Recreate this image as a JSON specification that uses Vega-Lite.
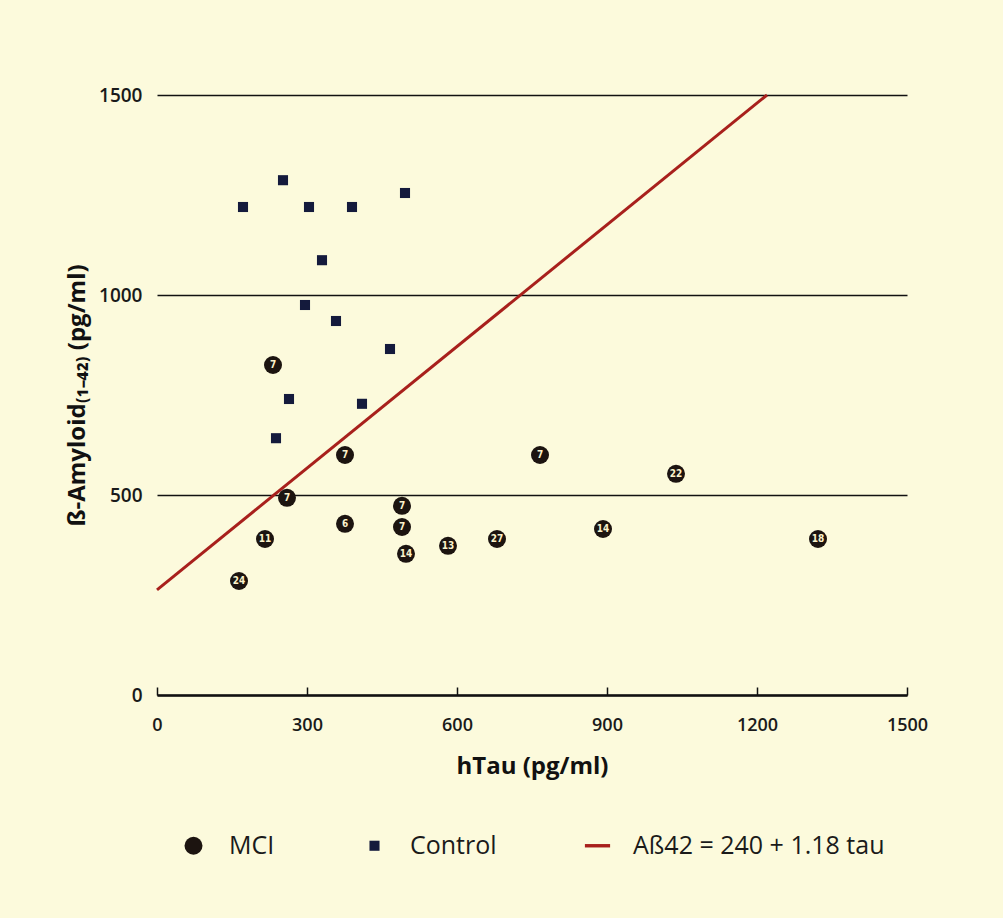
{
  "$schema": "https://vega.github.io/schema/vega-lite/v6.json",
  "width": 750,
  "height": 600,
  "autosize": {"type": "none"},
  "padding": {"left": 157, "top": 95, "right": 96, "bottom": 223},
  "background": "#fcfadc",
  "config": {
    "view": {"stroke": null},
    "font": "Open Sans",
    "legend": {
      "orient": "none",
      "legendX": 24,
      "legendY": 738,
      "direction": "horizontal",
      "columns": 3,
      "columnPadding": 87,
      "symbolSize": 324,
      "symbolStrokeWidth": 0,
      "labelFontSize": 25,
      "labelColor": "#1a1a1a",
      "labelOffset": 23,
      "labelLimit": 400
    }
  },
  "datasets": {
    "fit": [
      {"tau": 0, "abeta": 263},
      {"tau": 1220, "abeta": 1500}
    ],
    "points": [
      {"tau": 172, "abeta": 1220, "series": "Control"},
      {"tau": 252, "abeta": 1287, "series": "Control"},
      {"tau": 304, "abeta": 1220, "series": "Control"},
      {"tau": 390, "abeta": 1220, "series": "Control"},
      {"tau": 496, "abeta": 1255, "series": "Control"},
      {"tau": 330, "abeta": 1087, "series": "Control"},
      {"tau": 296, "abeta": 975, "series": "Control"},
      {"tau": 358, "abeta": 935, "series": "Control"},
      {"tau": 466, "abeta": 865, "series": "Control"},
      {"tau": 264, "abeta": 740, "series": "Control"},
      {"tau": 410, "abeta": 728, "series": "Control"},
      {"tau": 238, "abeta": 642, "series": "Control"},
      {"tau": 232, "abeta": 825, "n": "7", "series": "MCI"},
      {"tau": 376, "abeta": 600, "n": "7", "series": "MCI"},
      {"tau": 766, "abeta": 600, "n": "7", "series": "MCI"},
      {"tau": 260, "abeta": 493, "n": "7", "series": "MCI"},
      {"tau": 490, "abeta": 473, "n": "7", "series": "MCI"},
      {"tau": 376, "abeta": 428, "n": "6", "series": "MCI"},
      {"tau": 490, "abeta": 420, "n": "7", "series": "MCI"},
      {"tau": 216, "abeta": 390, "n": "11", "series": "MCI"},
      {"tau": 498, "abeta": 353, "n": "14", "series": "MCI"},
      {"tau": 582, "abeta": 373, "n": "13", "series": "MCI"},
      {"tau": 680, "abeta": 390, "n": "27", "series": "MCI"},
      {"tau": 164, "abeta": 285, "n": "24", "series": "MCI"},
      {"tau": 1038, "abeta": 553, "n": "22", "series": "MCI"},
      {"tau": 892, "abeta": 415, "n": "14", "series": "MCI"},
      {"tau": 1322, "abeta": 390, "n": "18", "series": "MCI"}
    ]
  },
  "encoding": {
    "x": {
      "field": "tau",
      "type": "quantitative",
      "scale": {"domain": [0, 1500], "nice": false, "zero": true},
      "axis": {
        "title": "hTau (pg/ml)",
        "values": [0, 300, 600, 900, 1200, 1500],
        "format": "d",
        "grid": false,
        "domainColor": "#111111",
        "domainWidth": 2.5,
        "tickColor": "#111111",
        "tickWidth": 1.5,
        "tickSize": -8,
        "labelFontSize": 18,
        "labelFontWeight": 600,
        "labelColor": "#1a1a1a",
        "labelPadding": 29,
        "labelFlush": false,
        "titleFontSize": 24,
        "titleFontWeight": "bold",
        "titleColor": "#111111",
        "titlePadding": 20
      }
    },
    "y": {
      "field": "abeta",
      "type": "quantitative",
      "scale": {"domain": [0, 1500], "nice": false},
      "axis": {
        "title": "ß-Amyloid₍₁₋₄₂₎ (pg/ml)",
        "values": [0, 500, 1000, 1500],
        "format": "d",
        "grid": true,
        "gridColor": "#111111",
        "gridWidth": 1.5,
        "domain": false,
        "ticks": false,
        "labelFontSize": 19,
        "labelFontWeight": 600,
        "labelColor": "#1a1a1a",
        "labelPadding": 15,
        "titleFontSize": 24,
        "titleFontWeight": "bold",
        "titleColor": "#111111",
        "titlePadding": 9
      }
    }
  },
  "layer": [
    {
      "data": {"name": "fit"},
      "mark": {"type": "line", "color": "#a8201c", "strokeWidth": 3},
      "encoding": {}
    },
    {
      "data": {"name": "points"},
      "mark": {"type": "point", "filled": true, "size": 324, "opacity": 1},
      "encoding": {
        "color": {
          "field": "series",
          "type": "nominal",
          "scale": {
            "domain": ["MCI", "Control", "Aß42 = 240 + 1.18 tau"],
            "range": ["#1c1410", "#141a3c", "#a8201c"]
          },
          "legend": {"title": null}
        },
        "shape": {
          "field": "series",
          "type": "nominal",
          "scale": {
            "domain": ["MCI", "Control", "Aß42 = 240 + 1.18 tau"],
            "range": ["circle", "M-0.56,-0.56H0.56V0.56H-0.56Z", "M-1.4,-0.19H1.4V0.19H-1.4Z"]
          },
          "legend": {"title": null}
        }
      }
    },
    {
      "data": {"name": "points"},
      "transform": [{"filter": "datum.series === 'MCI'"}],
      "mark": {"type": "text", "fontSize": 10, "fontWeight": "bold", "color": "#fbf2cc", "align": "center", "baseline": "middle", "font": "DejaVu Sans Condensed, Liberation Sans Narrow, Open Sans, sans-serif"},
      "encoding": {
        "text": {"field": "n"}
      }
    }
  ]
}
